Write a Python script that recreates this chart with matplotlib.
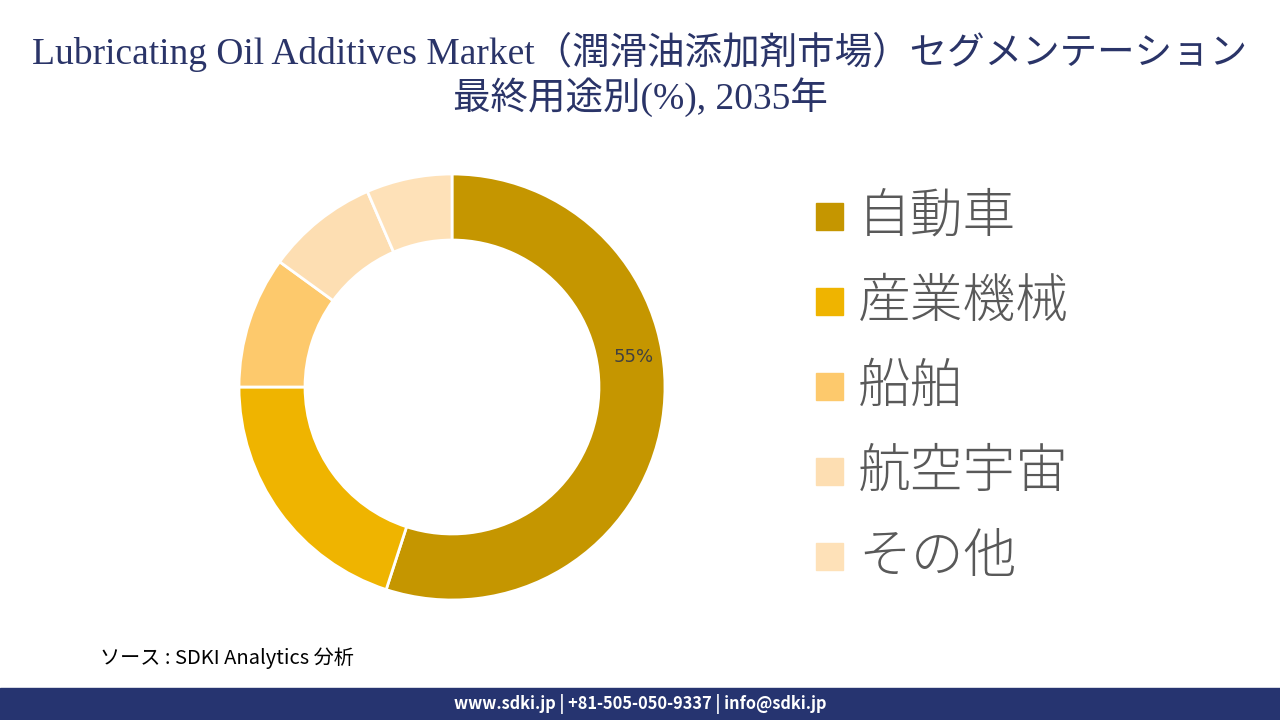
import matplotlib.pyplot as plt
import matplotlib.patches as mpatches

plt.rcParams['font.family'] = ['Noto Sans CJK JP', 'DejaVu Sans']

TITLE_1 = 'Lubricating Oil Additives Market（潤滑油添加剤市場）セグメンテーション'
TITLE_2 = '最終用途別(%), 2035年'

segments = ['自動車', '産業機械', '船舶', '航空宇宙', 'その他']
shares = [55, 20, 10, 8.5, 6.5]
seg_colors = ['#C59600', '#EFB400', '#FDC96C', '#FDDEB2', '#FEE1B8']

NAVY = '#2A3468'

fig = plt.figure(figsize=(12.8, 7.2), dpi=100)

# title
title_font = ['Liberation Serif', 'Noto Sans CJK JP']
fig.text(0.5, 1 - 52/720, TITLE_1, ha='center', va='center',
         fontsize=27, color=NAVY, family=title_font)
fig.text(0.5, 1 - 97/720, TITLE_2, ha='center', va='center',
         fontsize=27, color=NAVY, family=title_font)

# donut
cx, cy, r = 452, 387, 213
ax = fig.add_axes([(cx - r)/1280, (720 - cy - r)/720, 2*r/1280, 2*r/720])
wedges, _ = ax.pie(shares, colors=seg_colors, startangle=90, counterclock=False,
                   radius=1, wedgeprops=dict(width=0.31, edgecolor='white', linewidth=2))
ax.set_xlim(-1, 1)
ax.set_ylim(-1, 1)
ax.set_aspect('equal')
ax.axis('off')
ax.text(0.855, 0.14, f'{shares[0]}%', ha='center', va='center',
        fontsize=13, color='#404040', family=['DejaVu Sans'])

# legend
for i, (name, col) in enumerate(zip(segments, seg_colors)):
    yc = 217 + i*85
    fig.patches.append(mpatches.Rectangle((816/1280, 1 - (yc + 13)/720), 27/1280, 27/720,
                                          transform=fig.transFigure, color=col))
    fig.text(858/1280, 1 - yc/720, name, ha='left', va='center',
             fontsize=38, color='#595959', fontweight='light')

# source
fig.text(100/1280, 1 - 658/720, 'ソース : SDKI Analytics 分析', ha='left', va='center',
         fontsize=14.5, style='italic', color='black')

# footer bar
fig.patches.append(mpatches.Rectangle((0, 0), 1, 32/720, transform=fig.transFigure,
                                      color='#263470'))
fig.text(0.5, 16/720, 'www.sdki.jp | +81-505-050-9337 | info@sdki.jp', ha='center',
         va='center', fontsize=11.8, fontweight='bold', color='white')

fig.savefig('out.png', dpi=100)
